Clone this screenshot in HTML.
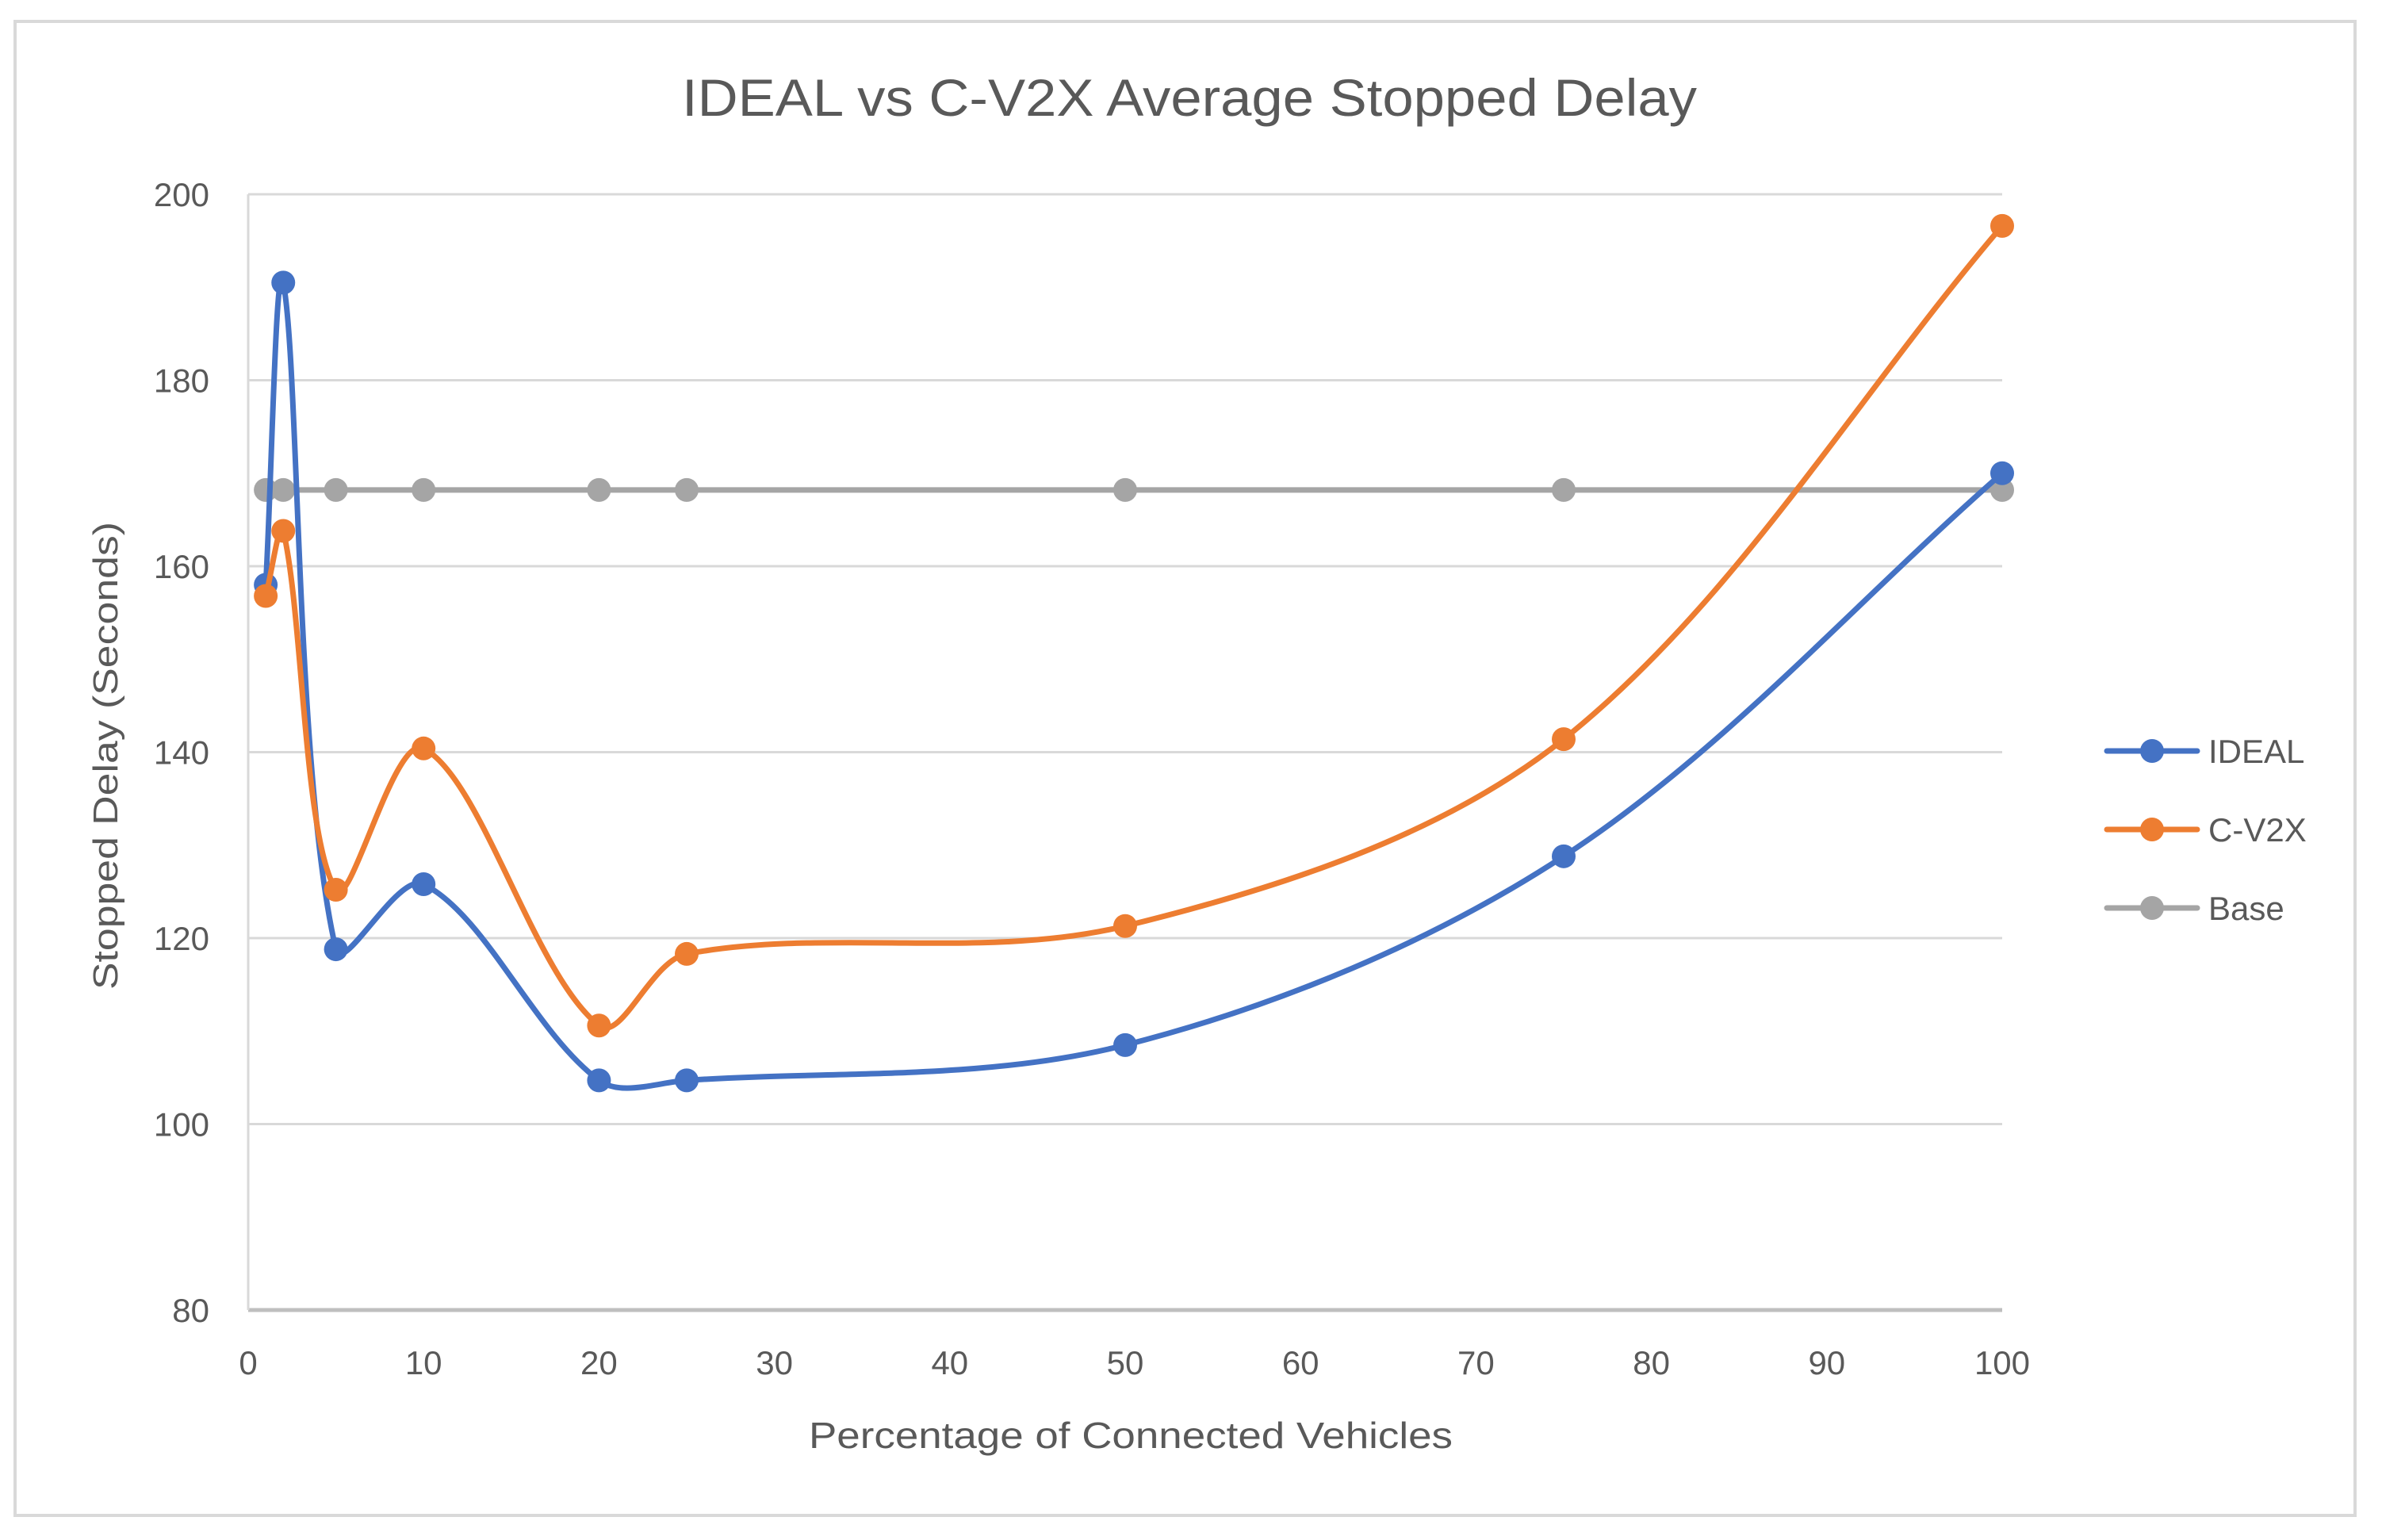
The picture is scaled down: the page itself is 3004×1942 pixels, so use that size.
<!DOCTYPE html>
<html><head><meta charset="utf-8"><style>
html,body{margin:0;padding:0;background:#fff;}
svg{display:block;font-family:"Liberation Sans",sans-serif;}
</style></head><body>
<svg id="chart" width="3004" height="1942" viewBox="0 0 3004 1942">
<rect x="19" y="27" width="2951" height="1884" fill="#fff" stroke="#D9D9D9" stroke-width="4"/>
<text x="1500" y="146" text-anchor="middle" font-size="66" fill="#595959" textLength="1280" lengthAdjust="spacingAndGlyphs">IDEAL vs C-V2X Average Stopped Delay</text>
<g id="grid"></g><g id="axes"></g><g id="series"></g>
<text transform="translate(148,953) rotate(-90)" text-anchor="middle" font-size="44" fill="#595959" textLength="590" lengthAdjust="spacingAndGlyphs">Stopped Delay (Seconds)</text>
<text x="1426" y="1826" text-anchor="middle" font-size="46" fill="#595959" textLength="812" lengthAdjust="spacingAndGlyphs">Percentage of Connected Vehicles</text>
<g id="legend"></g>
</svg>
<script>
const xValues=[1,2,5,10,20,25,50,75,100];
const idealValues=[158,190.5,118.8,125.8,104.7,104.7,108.5,128.8,170];
const cv2xValues=[156.8,163.8,125.2,140.4,110.6,118.3,121.3,141.4,196.6];
const baseValues=[168.2,168.2,168.2,168.2,168.2,168.2,168.2,168.2,168.2];
const seriesNames=["IDEAL","C-V2X","Base"];
const yTicks=[80,100,120,140,160,180,200];
const xTicks=[0,10,20,30,40,50,60,70,80,90,100];
const NS="http://www.w3.org/2000/svg";
const X0=313,X1=2525,Y0=1652,Y1=245;
function sx(v){return X0+(v-0)/(100-0)*(X1-X0);}
function sy(v){return Y0-(v-80)/(200-80)*(Y0-Y1);}
function mk(tag,attrs,parent){const e=document.createElementNS(NS,tag);for(const k in attrs)e.setAttribute(k,attrs[k]);parent.appendChild(e);return e;}
const grid=document.getElementById('grid'),axes=document.getElementById('axes'),ser=document.getElementById('series'),leg=document.getElementById('legend');
yTicks.forEach(t=>{
  const l=mk('line',{x1:X0,x2:X1,y1:sy(t),y2:sy(t),stroke:t===80?'#BFBFBF':'#D9D9D9','stroke-width':t===80?5:3},grid);
  
  
  const tx=mk('text',{x:264,y:sy(t)+15,'text-anchor':'end','font-size':42,fill:'#595959'},axes);
  tx.textContent=t;
  
  
});
const va=mk('line',{x1:X0,x2:X0,y1:Y1,y2:Y0,stroke:'#D9D9D9','stroke-width':3},grid);


xTicks.forEach(t=>{
  const tx=mk('text',{x:sx(t),y:1733,'text-anchor':'middle','font-size':42,fill:'#595959'},axes);
  tx.textContent=t;
  
  
});
function dist(a,b){return Math.hypot(a[0]-b[0],a[1]-b[1]);}
function smoothPath(pts){
  let d='M'+pts[0][0]+','+pts[0][1];
  for(let i=0;i<pts.length-1;i++){
    const p0=pts[i-1]||pts[i],p1=pts[i],p2=pts[i+1],p3=pts[i+2]||p2;
    const d01=dist(p0,p1),d12=dist(p1,p2),d23=dist(p2,p3);
    const f1=(d01+d12)>0?d12/(d01+d12)/1.5:0;
    const f2=(d12+d23)>0?d12/(d12+d23)/1.5:0;
    const c1=[p1[0]+(p2[0]-p0[0])*f1*0.5,p1[1]+(p2[1]-p0[1])*f1*0.5];
    const c2=[p2[0]-(p3[0]-p1[0])*f2*0.5,p2[1]-(p3[1]-p1[1])*f2*0.5];
    d+=' C'+c1+' '+c2+' '+p2;
  }
  return d;
}
const colors=['#4472C4','#ED7D31','#A5A5A5'];
const allVals=[idealValues,cv2xValues,baseValues];
const order=[2,0,1];
order.forEach(si=>{
  const vals=allVals[si];
  const pts=xValues.map((x,i)=>[sx(x),sy(vals[i])]);
  const p=mk('path',{d:smoothPath(pts),fill:'none',stroke:colors[si],'stroke-width':7,'stroke-linecap':'round'},ser);
  
  
  pts.forEach((pt,i)=>{
    const c=mk('circle',{cx:pt[0],cy:pt[1],r:15,fill:colors[si]},ser);
    
    
  });
});
seriesNames.forEach((n,i)=>{
  const y=947+i*99;
  const l=mk('line',{x1:2657,x2:2771,y1:y,y2:y,stroke:colors[i],'stroke-width':7,'stroke-linecap':'round'},leg);
  
  
  const c=mk('circle',{cx:2714,cy:y,r:15,fill:colors[i]},leg);
  
  
  const t=mk('text',{x:2785,y:y+15,'font-size':42,fill:'#595959'},leg);
  t.textContent=n;
  
  
});
</script>
</body></html>
